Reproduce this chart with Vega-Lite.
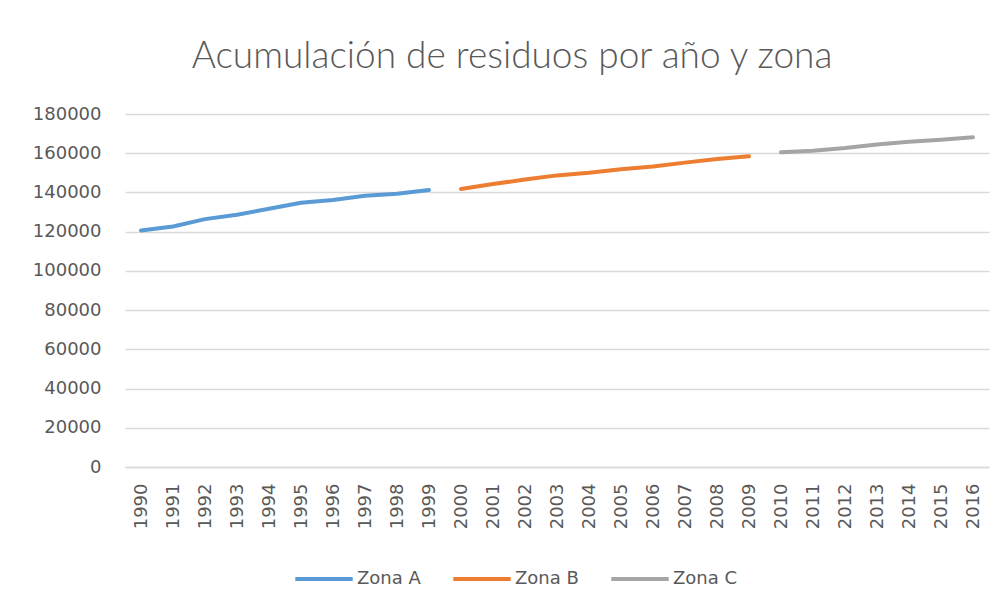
{
  "$schema": "https://vega.github.io/schema/vega-lite/v6.json",
  "autosize": {"type": "none"},
  "padding": {"left": 125, "top": 114, "right": 19, "bottom": 146},
  "width": 864,
  "height": 353,
  "background": "white",
  "title": {
    "text": "Acumulación de residuos por año y zona",
    "font": "Lato",
    "fontSize": 37,
    "fontWeight": 300,
    "color": "#595959",
    "anchor": "middle",
    "dx": -45,
    "offset": 29
  },
  "data": {
    "values": [
      {"año": "1990", "zona": "Zona A", "valor": 120600},
      {"año": "1991", "zona": "Zona A", "valor": 122600},
      {"año": "1992", "zona": "Zona A", "valor": 126400},
      {"año": "1993", "zona": "Zona A", "valor": 128600},
      {"año": "1994", "zona": "Zona A", "valor": 131700},
      {"año": "1995", "zona": "Zona A", "valor": 134700},
      {"año": "1996", "zona": "Zona A", "valor": 136200},
      {"año": "1997", "zona": "Zona A", "valor": 138300},
      {"año": "1998", "zona": "Zona A", "valor": 139300},
      {"año": "1999", "zona": "Zona A", "valor": 141300},
      {"año": "2000", "zona": "Zona B", "valor": 141800},
      {"año": "2001", "zona": "Zona B", "valor": 144300},
      {"año": "2002", "zona": "Zona B", "valor": 146600},
      {"año": "2003", "zona": "Zona B", "valor": 148700},
      {"año": "2004", "zona": "Zona B", "valor": 150000},
      {"año": "2005", "zona": "Zona B", "valor": 151800},
      {"año": "2006", "zona": "Zona B", "valor": 153200},
      {"año": "2007", "zona": "Zona B", "valor": 155200},
      {"año": "2008", "zona": "Zona B", "valor": 157100},
      {"año": "2009", "zona": "Zona B", "valor": 158400},
      {"año": "2010", "zona": "Zona C", "valor": 160500},
      {"año": "2011", "zona": "Zona C", "valor": 161300},
      {"año": "2012", "zona": "Zona C", "valor": 162700},
      {"año": "2013", "zona": "Zona C", "valor": 164500},
      {"año": "2014", "zona": "Zona C", "valor": 165800},
      {"año": "2015", "zona": "Zona C", "valor": 166900},
      {"año": "2016", "zona": "Zona C", "valor": 168100}
    ]
  },
  "mark": {"type": "line", "strokeWidth": 4, "strokeCap": "round", "strokeJoin": "round"},
  "encoding": {
    "x": {
      "field": "año",
      "type": "ordinal",
      "title": null,
      "axis": {
        "labelAngle": 270,
        "labelAlign": "right",
        "labelBaseline": "middle",
        "labelFont": "DejaVu Sans",
        "labelFontSize": 18,
        "labelColor": "#595959",
        "labelPadding": 16,
        "ticks": false,
        "domainColor": "#d9d9d9",
        "domainWidth": 1.5
      }
    },
    "y": {
      "field": "valor",
      "type": "quantitative",
      "title": null,
      "scale": {"domain": [0, 180000]},
      "axis": {
        "values": [0, 20000, 40000, 60000, 80000, 100000, 120000, 140000, 160000, 180000],
        "format": "d",
        "labelFont": "DejaVu Sans",
        "labelFontSize": 18,
        "labelColor": "#595959",
        "labelPadding": 24,
        "ticks": false,
        "domain": false,
        "gridColor": "#d9d9d9",
        "gridWidth": 1.5
      }
    },
    "color": {
      "field": "zona",
      "type": "nominal",
      "title": null,
      "scale": {"domain": ["Zona A", "Zona B", "Zona C"], "range": ["#5B9BD5", "#ED7D31", "#A5A5A5"]},
      "legend": {
        "orient": "none",
        "direction": "horizontal",
        "legendX": 168,
        "legendY": 434,
        "symbolType": "stroke",
        "symbolSize": 3300,
        "symbolStrokeWidth": 4,
        "labelFont": "DejaVu Sans",
        "labelFontSize": 18,
        "labelColor": "#595959",
        "labelOffset": 2,
        "columnPadding": 24
      }
    }
  },
  "config": {"view": {"stroke": null}}
}
